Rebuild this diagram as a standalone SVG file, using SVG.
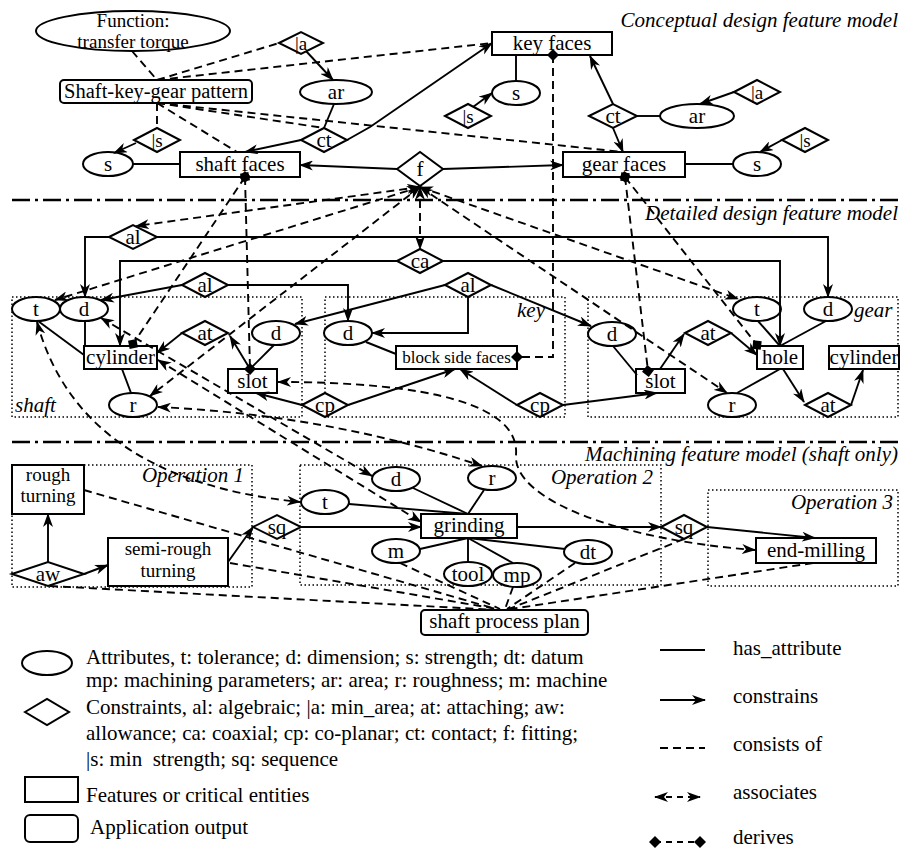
<svg xmlns="http://www.w3.org/2000/svg" width="902" height="853" viewBox="0 0 902 853">
<defs>
<style>
text{font-family:"Liberation Serif","Times New Roman",Times,"DejaVu Serif",serif;font-size:21px;fill:#000}
.c{text-anchor:middle}
.e{text-anchor:end}
.i{font-style:italic}
.s19{font-size:19px}
.two{font-size:19px}
.nd{fill:#fff;stroke:#000;stroke-width:2}
.ln{fill:none;stroke:#000;stroke-width:1.9}
.ds{stroke-dasharray:8 5}
.dot{fill:none;stroke:#000;stroke-width:1.5;stroke-dasharray:1.5 2.5}
.sep{fill:none;stroke:#000;stroke-width:2.5;stroke-dasharray:18 5 3 5}
.ar{marker-end:url(#arr)}
.as{marker-start:url(#arr);marker-end:url(#arr)}
.dv{marker-start:url(#dia);marker-end:url(#dia)}
</style>
<marker id="arr" viewBox="0 0 14 10" refX="13" refY="5" markerWidth="14" markerHeight="10" markerUnits="userSpaceOnUse" orient="auto-start-reverse"><path d="M0,0 L14,5 L0,10 L4,5 z" fill="#000"/></marker>
<marker id="dia" viewBox="0 0 12 12" refX="6" refY="6" markerWidth="12" markerHeight="12" markerUnits="userSpaceOnUse" orient="auto"><path d="M0,6 L6,0 L12,6 L6,12 z" fill="#000"/></marker>
</defs>
<rect width="902" height="853" fill="#fff"/>

<!-- section separators, titles and grouping boxes -->
<g id="sections">
<path class="sep" d="M12,200 L898,200"/>
<path class="sep" d="M12,442 L898,442"/>
<text class="e i" x="898" y="27">Conceptual design feature model</text>
<text class="e i" x="898" y="220">Detailed design feature model</text>
<text class="e i" x="898" y="461">Machining feature model (shaft only)</text>
<rect class="dot" x="12" y="297" width="290" height="120"/>
<rect class="dot" x="325" y="297" width="240" height="120"/>
<rect class="dot" x="588" y="297" width="310" height="120"/>
<text class="i" x="15" y="412">shaft</text>
<text class="i" x="517" y="317">key</text>
<text class="i" x="854" y="317">gear</text>
<rect class="dot" x="12" y="465" width="240" height="122"/>
<rect class="dot" x="300" y="465" width="361" height="120"/>
<rect class="dot" x="708" y="490" width="190" height="96"/>
<text class="e i" x="244" y="482">Operation 1</text>
<text class="e i" x="653" y="484">Operation 2</text>
<text class="e i" x="893" y="509">Operation 3</text>
</g>

<!-- conceptual nodes -->
<g id="n-function"><ellipse class="nd" cx="133" cy="31" rx="97" ry="20"/><text class="c two" x="133" y="27">Function:</text><text class="c two" x="133" y="48">transfer torque</text></g>
<g id="n-pattern"><rect class="nd" x="60" y="80" width="192" height="23" rx="4"/><text class="c" x="156" y="98" style="font-size:20.5px">Shaft-key-gear pattern</text></g>
<g id="n-shaft-faces"><rect class="nd" x="180" y="152" width="120" height="25"/><text class="c" x="240" y="171">shaft faces</text></g>
<g id="n-s1"><ellipse class="nd" cx="108" cy="164" rx="25" ry="12"/><text class="c" x="108" y="171">s</text></g>
<g id="n-ms1"><polygon class="nd" points="134,140 157,128 180,140 157,152"/><text class="c s19" x="157" y="147">|s</text></g>
<g id="n-ma1"><polygon class="nd" points="279,43 301,32 323,43 301,54"/><text class="c s19" x="301" y="50">|a</text></g>
<g id="n-ar1"><ellipse class="nd" cx="336" cy="92" rx="36" ry="12"/><text class="c" x="336" y="99">ar</text></g>
<g id="n-ct1"><polygon class="nd" points="301,140 324,128 347,140 324,152"/><text class="c" x="324" y="147">ct</text></g>
<g id="n-key-faces"><rect class="nd" x="492" y="32" width="120" height="23"/><text class="c" x="552" y="50">key faces</text></g>
<g id="n-s2"><ellipse class="nd" cx="516" cy="93" rx="24" ry="12"/><text class="c" x="516" y="100">s</text></g>
<g id="n-ms2"><polygon class="nd" points="445,116 468,104 491,116 468,128"/><text class="c s19" x="468" y="123">|s</text></g>
<g id="n-f"><polygon class="nd" points="397,169 420,152 443,169 420,186"/><text class="c" x="420" y="176">f</text></g>
<g id="n-gear-faces"><rect class="nd" x="563" y="152" width="122" height="25"/><text class="c" x="624" y="171">gear faces</text></g>
<g id="n-ct2"><polygon class="nd" points="589,116 613,104 637,116 613,128"/><text class="c" x="613" y="123">ct</text></g>
<g id="n-ar2"><ellipse class="nd" cx="697" cy="116" rx="37" ry="12"/><text class="c" x="697" y="123">ar</text></g>
<g id="n-ma2"><polygon class="nd" points="734,92 757,80 780,92 757,104"/><text class="c s19" x="757" y="99">|a</text></g>
<g id="n-s3"><ellipse class="nd" cx="757" cy="164" rx="24" ry="12"/><text class="c" x="757" y="171">s</text></g>
<g id="n-ms3"><polygon class="nd" points="782,140 805,128 828,140 805,152"/><text class="c s19" x="805" y="147">|s</text></g>

<!-- detailed nodes -->
<g id="n-al1"><polygon class="nd" points="109,237 133,225 157,237 133,249"/><text class="c" x="133" y="244">al</text></g>
<g id="n-ca"><polygon class="nd" points="397,261 420,249 443,261 420,273"/><text class="c" x="420" y="268">ca</text></g>
<g id="n-al2"><polygon class="nd" points="182,285 205,273 228,285 205,297"/><text class="c" x="205" y="292">al</text></g>
<g id="n-al3"><polygon class="nd" points="445,285 468,273 491,285 468,297"/><text class="c" x="468" y="292">al</text></g>
<g id="n-t-shaft"><ellipse class="nd" cx="36" cy="309" rx="24" ry="12"/><text class="c" x="36" y="316">t</text></g>
<g id="n-d-shaft"><ellipse class="nd" cx="84" cy="309" rx="24" ry="12"/><text class="c" x="84" y="316">d</text></g>
<g id="n-cyl-shaft"><rect class="nd" x="84" y="346" width="73" height="23"/><text class="c" x="120.5" y="364">cylinder</text></g>
<g id="n-at-shaft"><polygon class="nd" points="182,333 205,321 228,333 205,345"/><text class="c" x="205" y="340">at</text></g>
<g id="n-d-slot"><ellipse class="nd" cx="276" cy="333" rx="24" ry="12"/><text class="c" x="276" y="340">d</text></g>
<g id="n-slot-shaft"><rect class="nd" x="228" y="369" width="49" height="24"/><text class="c" x="252.5" y="388">slot</text></g>
<g id="n-r-shaft"><ellipse class="nd" cx="133" cy="405" rx="24" ry="12"/><text class="c" x="133" y="412">r</text></g>
<g id="n-cp1"><polygon class="nd" points="302,405 325,393 348,405 325,417"/><text class="c" x="325" y="412">cp</text></g>
<g id="n-d-key"><ellipse class="nd" cx="348" cy="333" rx="24" ry="12"/><text class="c" x="348" y="340">d</text></g>
<g id="n-block"><rect class="nd" x="396" y="346" width="121" height="23"/><text class="c" x="456.5" y="363" style="font-size:17px">block side faces</text></g>
<g id="n-cp2"><polygon class="nd" points="517,405 540,393 563,405 540,417"/><text class="c" x="540" y="412">cp</text></g>
<g id="n-d-gear"><ellipse class="nd" cx="612" cy="334" rx="24" ry="12"/><text class="c" x="612" y="341">d</text></g>
<g id="n-slot-gear"><rect class="nd" x="636" y="369" width="49" height="24"/><text class="c" x="660.5" y="388">slot</text></g>
<g id="n-at-gear"><polygon class="nd" points="685,333 708,321 731,333 708,345"/><text class="c" x="708" y="340">at</text></g>
<g id="n-t-gear"><ellipse class="nd" cx="757" cy="309" rx="24" ry="12"/><text class="c" x="757" y="316">t</text></g>
<g id="n-d-gear2"><ellipse class="nd" cx="828" cy="309" rx="24" ry="12"/><text class="c" x="828" y="316">d</text></g>
<g id="n-hole"><rect class="nd" x="757" y="346" width="46" height="23"/><text class="c" x="780" y="364">hole</text></g>
<g id="n-cyl-gear"><rect class="nd" x="829" y="346" width="70" height="23"/><text class="c" x="864" y="364">cylinder</text></g>
<g id="n-r-gear"><ellipse class="nd" cx="732" cy="405" rx="24" ry="12"/><text class="c" x="732" y="412">r</text></g>
<g id="n-at-gear2"><polygon class="nd" points="805,405 828,393 851,405 828,417"/><text class="c" x="828" y="412">at</text></g>

<!-- machining nodes -->
<g id="n-rough"><rect class="nd" x="12" y="465" width="72" height="49"/><text class="c two" x="48" y="481">rough</text><text class="c two" x="48" y="502">turning</text></g>
<g id="n-aw"><polygon class="nd" points="12,574 48,562 84,574 48,586"/><text class="c" x="48" y="581">aw</text></g>
<g id="n-semi"><rect class="nd" x="108" y="538" width="120" height="48"/><text class="c two" x="168" y="555">semi-rough</text><text class="c two" x="168" y="577">turning</text></g>
<g id="n-sq1"><polygon class="nd" points="253,527 277,515 301,527 277,539"/><text class="c" x="277" y="534">sq</text></g>
<g id="n-t-mach"><ellipse class="nd" cx="325" cy="502" rx="24" ry="12"/><text class="c" x="325" y="509">t</text></g>
<g id="n-d-mach"><ellipse class="nd" cx="396" cy="479" rx="24" ry="12"/><text class="c" x="396" y="486">d</text></g>
<g id="n-r-mach"><ellipse class="nd" cx="492" cy="478" rx="24" ry="12"/><text class="c" x="492" y="485">r</text></g>
<g id="n-grinding"><rect class="nd" x="421" y="514" width="96" height="24"/><text class="c" x="469" y="532">grinding</text></g>
<g id="n-m"><ellipse class="nd" cx="396" cy="551" rx="24" ry="12"/><text class="c" x="396" y="558">m</text></g>
<g id="n-tool"><ellipse class="nd" cx="468" cy="574" rx="24" ry="12"/><text class="c" x="468" y="581">tool</text></g>
<g id="n-mp"><ellipse class="nd" cx="517" cy="575" rx="24" ry="12"/><text class="c" x="517" y="582">mp</text></g>
<g id="n-dt"><ellipse class="nd" cx="588" cy="552" rx="24" ry="12"/><text class="c" x="588" y="559">dt</text></g>
<g id="n-sq2"><polygon class="nd" points="661,527 684,515 707,527 684,539"/><text class="c" x="684" y="534">sq</text></g>
<g id="n-endmill"><rect class="nd" x="756" y="538" width="120" height="25"/><text class="c" x="816" y="557">end-milling</text></g>
<g id="n-plan"><rect class="nd" x="421" y="610" width="167" height="25" rx="4"/><text class="c" x="504.5" y="628">shaft process plan</text></g>

<!-- connectors -->
<g id="connectors">
<!-- has_attribute -->
<path class="ln" d="M133,164 L180,164"/>
<path class="ln" d="M334,104 L324,128"/>
<path class="ln" d="M516,55 L516,81"/>
<path class="ln" d="M637,116 L660,116"/>
<path class="ln" d="M685,164 L733,164"/>
<path class="ln" d="M38,321 L84,355"/>
<path class="ln" d="M85,321 L85,346"/>
<path class="ln" d="M122,369 L131,393"/>
<path class="ln" d="M274,345 L250,369"/>
<path class="ln" d="M366,342 L396,354"/>
<path class="ln" d="M613,346 L637,375"/>
<path class="ln" d="M758,321 L780,346"/>
<path class="ln" d="M826,321 L780,346"/>
<path class="ln" d="M780,369 L737,393"/>
<path class="ln" d="M349,504 L468,514"/>
<path class="ln" d="M413,488 L468,514"/>
<path class="ln" d="M484,490 L468,514"/>
<path class="ln" d="M468,538 L420,549"/>
<path class="ln" d="M468,538 L468,562"/>
<path class="ln" d="M468,538 L513,563"/>
<path class="ln" d="M468,538 L565,549"/>
<!-- constrains -->
<path class="ln ar" d="M136,143 L114,153"/>
<path class="ln ar" d="M306,51 L333,80"/>
<path class="ln ar" d="M301,140 L245,152"/>
<path class="ln ar" d="M347,140 L370,127 L492,43"/>
<path class="ln ar" d="M473,107 L492,93"/>
<path class="ln ar" d="M397,169 L300,165"/>
<path class="ln ar" d="M443,169 L563,165"/>
<path class="ln ar" d="M613,104 L590,56"/>
<path class="ln ar" d="M613,128 L623,152"/>
<path class="ln ar" d="M734,92 L700,104"/>
<path class="ln ar" d="M782,140 L760,152"/>
<path class="ln ar" d="M109,237 L85,237 L85,297"/>
<path class="ln ar" d="M157,237 L828,237 L828,297"/>
<path class="ln ar" d="M397,261 L120,261 L120,346"/>
<path class="ln ar" d="M443,261 L780,261 L780,346"/>
<path class="ln ar" d="M182,285 L101,300"/>
<path class="ln ar" d="M228,285 L348,285 L348,321"/>
<path class="ln ar" d="M445,285 L295,324"/>
<path class="ln ar" d="M468,297 L468,333 L372,333"/>
<path class="ln ar" d="M491,285 L591,326"/>
<path class="ln ar" d="M182,333 L157,353"/>
<path class="ln ar" d="M250,369 L230,336"/>
<path class="ln ar" d="M302,405 L256,393"/>
<path class="ln ar" d="M348,405 L455,369"/>
<path class="ln ar" d="M517,405 L460,369"/>
<path class="ln ar" d="M563,405 L657,393"/>
<path class="ln ar" d="M660,369 L684,334"/>
<path class="ln ar" d="M731,333 L757,355"/>
<path class="ln ar" d="M783,369 L804,402"/>
<path class="ln ar" d="M851,405 L863,370"/>
<path class="ln ar" d="M48,562 L48,514"/>
<path class="ln ar" d="M84,574 L108,565"/>
<path class="ln ar" d="M228,562 L253,527"/>
<path class="ln ar" d="M301,527 L421,527"/>
<path class="ln ar" d="M517,527 L661,527"/>
<path class="ln ar" d="M707,527 L815,538"/>
<!-- consists of -->
<path class="ln ds" d="M132,51 L157,80"/>
<path class="ln ds" d="M157,80 L279,43"/>
<path class="ln ds" d="M157,80 L492,43"/>
<path class="ln ds" d="M157,103 L157,128"/>
<path class="ln ds" d="M157,103 L237,152"/>
<path class="ln ds" d="M157,103 L324,128"/>
<path class="ln ds" d="M157,103 L623,152"/>
<path class="ln ds" d="M84,490 L496,609"/>
<path class="ln ds" d="M50,586 L498,610"/>
<path class="ln ds" d="M230,563 L497,609"/>
<path class="ln ds" d="M400,563 L500,609"/>
<path class="ln ds" d="M513,587 L505,609"/>
<path class="ln ds" d="M575,563 L507,609"/>
<path class="ln ds" d="M684,539 L509,609"/>
<path class="ln ds" d="M813,563 L511,609"/>
<!-- associates -->
<path class="ln ds as" d="M420,187 L136,226"/>
<path class="ln ds as" d="M420,187 L55,300"/>
<path class="ln ds as" d="M420,187 L420,249"/>
<path class="ln ds as" d="M420,187 L150,396"/>
<path class="ln ds as" d="M420,187 L738,299"/>
<path class="ln ds as" d="M420,187 L727,393"/>
<path class="ln ds as" d="M37,322 Q80,480 300,502"/>
<path class="ln ds as" d="M101,318 L372,476"/>
<path class="ln ds as" d="M158,360 L421,522"/>
<path class="ln ds as" d="M158,407 Q330,415 482,466"/>
<path class="ln ds as" d="M278,382 C430,382 520,405 516,455 C513,500 620,540 755,550"/>
<!-- derives -->
<path class="ln ds dv" d="M245,177 L133,344"/>
<path class="ln ds dv" d="M245,177 L250,369"/>
<path class="ln ds dv" d="M553,55 L553,357 L517,357"/>
<path class="ln ds dv" d="M625,177 L648,371"/>
<path class="ln ds dv" d="M625,177 L757,345"/>
</g>

<!-- legend -->
<g id="legend">
<ellipse class="nd" cx="47" cy="663" rx="25" ry="12"/>
<text x="86" y="664">Attributes, t: tolerance; d: dimension; s: strength; dt: datum</text>
<text x="86" y="687">mp: machining parameters; ar: area; r: roughness; m: machine</text>
<polygon class="nd" points="25,712 47,699 69,712 47,725"/>
<text x="86" y="714">Constraints, al: algebraic; |a: min_area; at: attaching; aw:</text>
<text x="86" y="740">allowance; ca: coaxial; cp: co-planar; ct: contact; f: fitting;</text>
<text x="86" y="766" xml:space="preserve">|s: min  strength; sq: sequence</text>
<rect class="nd" x="25" y="777" width="53" height="25"/>
<text x="86" y="802">Features or critical entities</text>
<rect class="nd" x="25" y="815" width="53" height="27" rx="5"/>
<text x="90" y="834">Application output</text>
<path class="ln" d="M660,650 L705,650"/>
<text x="733" y="655">has_attribute</text>
<path class="ln ar" d="M660,700 L705,700"/>
<text x="733" y="703">constrains</text>
<path class="ln ds" d="M660,748 L705,748"/>
<text x="733" y="751">consists of</text>
<path class="ln as" style="stroke-dasharray:6 5" d="M655,797 L700,797"/>
<text x="733" y="799">associates</text>
<path class="ln dv" style="stroke-dasharray:6 5" d="M655,842 L700,842"/>
<text x="733" y="844">derives</text>
</g>
</svg>
